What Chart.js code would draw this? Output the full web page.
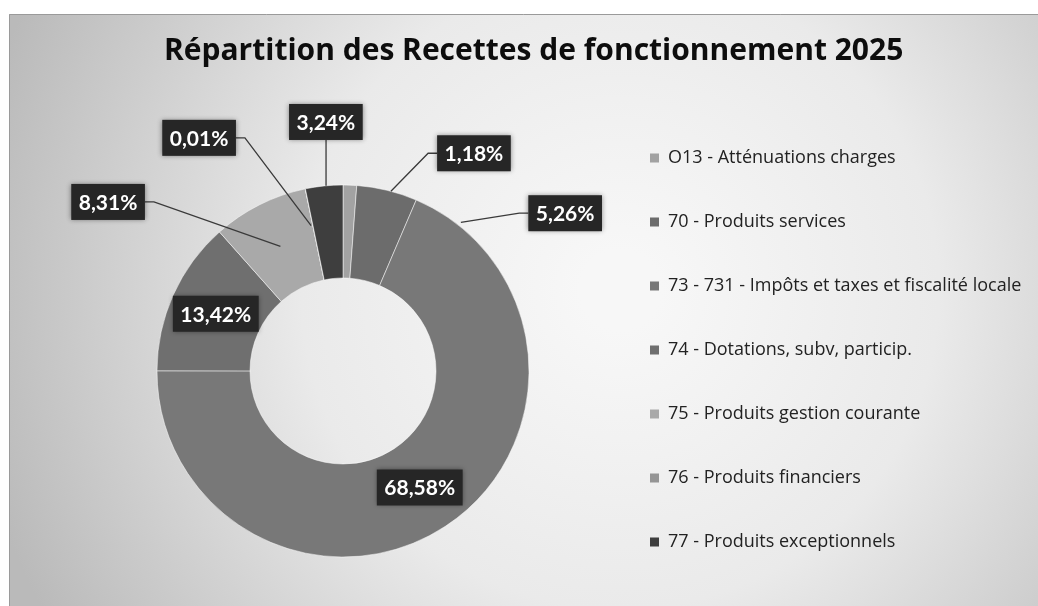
<!DOCTYPE html>
<html><head><meta charset="utf-8">
<script src="https://cdn.jsdelivr.net/npm/chart.js@4.4.1/dist/chart.umd.min.js"></script>
<style>html,body{margin:0;padding:0;background:#fff}#wrap{width:1038px;height:606px;position:relative}</style>
</head><body><div id="wrap"><canvas id="c"></canvas></div>
<script>
const titleText = 'Répartition des Recettes de fonctionnement 2025';
const categories = [
  'O13 - Atténuations charges',
  '70 - Produits services',
  '73 - 731 - Impôts et taxes et fiscalité locale',
  '74 - Dotations, subv, particip.',
  '75 - Produits gestion courante',
  '76 - Produits financiers',
  '77 - Produits exceptionnels'
];
const shares = [1.18, 5.26, 68.58, 13.42, 8.31, 0.01, 3.24];
const sliceColors = ['#a2a2a2', '#6c6c6c', '#787878', '#6f6f6f', '#a9a9a9', '#959595', '#3e3e3e'];

// label layout (style): offset from each slice's mid-angle (deg) and distance as a fraction of outer radius
const labelAngleOffset = [28.9, 40.9, 0, 0, -27.6, -20.0, 1.9];
const labelRadius = [1.366, 1.465, 0.75, 0.75, 1.556, 1.473, 1.342];
const leaderAngleOffset = [12.8, 24.7, null, null, 0, -0.7, 0.6];
const leaderRadius = [1.0, 1.02, null, null, 0.75, 0.80, 1.0];

const fmt = v => v.toFixed(2).replace('.', ',') + '%';

// layout helpers
const W = 1038;
const legendFontSize = 18, legendBox = 9, legendRow = 64, legendX = 648, centerX = 342;
const mctx = document.createElement('canvas').getContext('2d');
mctx.font = legendFontSize + 'px "Open Sans"';
const maxText = Math.max(...categories.map(c => mctx.measureText(c).width));
const legendWidth = legendBox + legendFontSize / 2 + maxText + 10;
const padLeft = 2 * centerX - legendX;
const padRight = Math.max(0, W - legendX - legendWidth - 2);

const bgPlugin = {
  id: 'bg',
  beforeDraw(chart) {
    const {ctx, width, height} = chart;
    ctx.save();
    ctx.fillStyle = '#ffffff';
    ctx.fillRect(0, 0, width, height);
    const g = ctx.createRadialGradient(620, 290, 40, 620, 290, 660);
    g.addColorStop(0, '#f7f7f7');
    g.addColorStop(0.45, '#eaeaea');
    g.addColorStop(1, '#bababa');
    ctx.fillStyle = g;
    ctx.fillRect(9, 14, width - 9, height - 14);
    ctx.strokeStyle = '#9a9a9a';
    ctx.lineWidth = 1;
    ctx.beginPath();
    ctx.moveTo(9.5, height); ctx.lineTo(9.5, 14.5); ctx.lineTo(width, 14.5);
    ctx.stroke();
    ctx.restore();
  }
};

const labelPlugin = {
  id: 'pctLabels',
  afterDatasetsDraw(chart) {
    const meta = chart.getDatasetMeta(0);
    const ctx = chart.ctx;
    ctx.save();
    ctx.font = 'bold 21px Lato';
    meta.data.forEach((arc, i) => {
      const {x, y, startAngle, endAngle, outerRadius} = arc.getProps(['x', 'y', 'startAngle', 'endAngle', 'outerRadius'], true);
      const mid = (startAngle + endAngle) / 2;
      const la = mid + labelAngleOffset[i] * Math.PI / 180;
      const lr = outerRadius * labelRadius[i];
      const cx = x + Math.cos(la) * lr, cy = y + Math.sin(la) * lr;
      const text = fmt(shares[i]);
      const tw = ctx.measureText(text).width;
      const bw = tw + 15, bh = 36;
      const bx = cx - bw / 2, by = cy - bh / 2;
      if (leaderRadius[i] != null) {
        const aa = mid + leaderAngleOffset[i] * Math.PI / 180;
        const ar = outerRadius * leaderRadius[i];
        const ax = x + Math.cos(aa) * ar, ay = y + Math.sin(aa) * ar;
        ctx.beginPath();
        if (ax > bx && ax < bx + bw && ay > by + bh) {
          ctx.moveTo(ax, by + bh); ctx.lineTo(ax, ay);
        } else {
          const left = ax < bx;
          const sx = left ? bx : bx + bw;
          ctx.moveTo(sx, cy); ctx.lineTo(sx + (left ? -9 : 9), cy); ctx.lineTo(ax, ay);
        }
        ctx.strokeStyle = '#3a3a3a'; ctx.lineWidth = 1.3; ctx.stroke();
      }
      ctx.shadowColor = 'rgba(0,0,0,0.45)'; ctx.shadowBlur = 5;
      ctx.fillStyle = '#262626';
      ctx.fillRect(bx, by, bw, bh);
      ctx.shadowColor = 'transparent'; ctx.shadowBlur = 0;
      ctx.fillStyle = '#ffffff';
      ctx.textAlign = 'center'; ctx.textBaseline = 'middle';
      ctx.fillText(text, cx, cy + 1);
    });
    ctx.restore();
  }
};

new Chart(document.getElementById('c'), {
  type: 'doughnut',
  data: {
    labels: categories,
    datasets: [{
      data: shares,
      backgroundColor: sliceColors,
      borderColor: 'rgba(255,255,255,0.5)',
      borderWidth: 1,
      hoverOffset: 0
    }]
  },
  options: {
    responsive: true,
    maintainAspectRatio: false,
    animation: false,
    events: [],
    radius: 186,
    cutout: '50%',
    layout: {padding: {left: padLeft, right: padRight, top: 10, bottom: 5}},
    plugins: {
      tooltip: {enabled: false},
      title: {
        display: true, text: titleText, color: '#0d0d0d',
        font: {family: '"Open Sans"', size: 30, weight: 'bold', lineHeight: 1.2},
        padding: {top: 23, bottom: 72}
      },
      legend: {
        position: 'right', align: 'center',
        title: {display: true, text: ' ', font: {size: 10, lineHeight: 1}, padding: {top: 0, bottom: 125}},
        labels: {
          boxWidth: legendBox, boxHeight: legendBox, padding: 0, color: '#222222',
          font: {family: '"Open Sans"', size: legendFontSize, lineHeight: legendRow + 'px'},
          generateLabels(chart) {
            const items = Chart.overrides.doughnut.plugins.legend.labels.generateLabels(chart);
            items.forEach(it => { it.lineWidth = 0; it.strokeStyle = 'transparent'; it.text = [it.text]; });
            return items;
          }
        }
      }
    }
  },
  plugins: [bgPlugin, labelPlugin]
});
</script></body></html>
